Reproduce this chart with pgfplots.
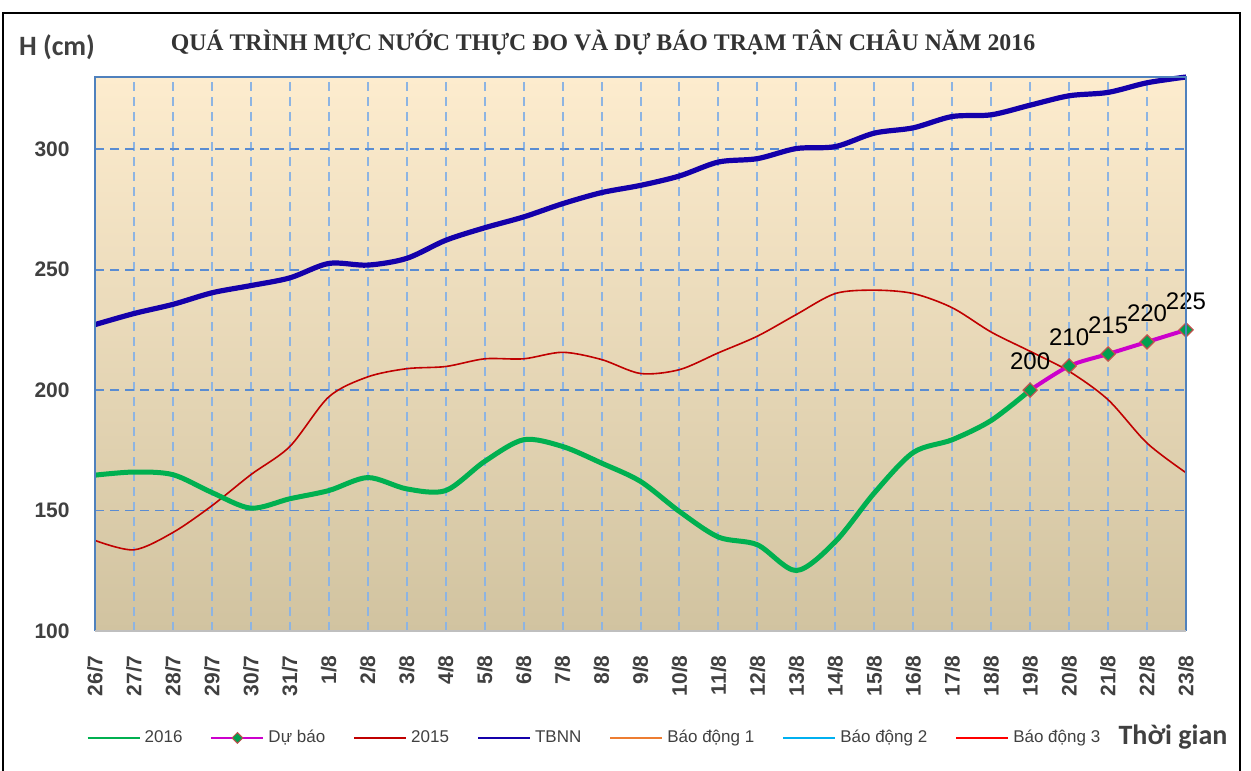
\documentclass[border=0pt]{standalone}
\usepackage{fontspec}
\setmainfont{Liberation Sans}
\newfontfamily\titlefont{Liberation Serif}
\newfontfamily\calfont{Carlito}
\usepackage{pgfplots}
\pgfplotsset{compat=1.18}
\definecolor{c2016}{RGB}{0,176,80}
\definecolor{cdb}{RGB}{204,0,204}
\definecolor{c2015}{RGB}{192,0,0}
\definecolor{ctbnn}{RGB}{20,0,170}
\definecolor{cbd1}{RGB}{237,125,49}
\definecolor{cbd2}{RGB}{0,176,240}
\definecolor{cbd3}{RGB}{255,0,0}
\definecolor{txt}{RGB}{64,64,64}
\definecolor{vgrid}{RGB}{141,180,226}
\definecolor{hgrid}{RGB}{90,140,210}
\definecolor{frameblue}{RGB}{79,129,189}
\definecolor{bgtop}{RGB}{253,236,206}
\definecolor{bgmid}{RGB}{241,233,212}
\definecolor{bgbot}{RGB}{209,195,160}
\definecolor{mkfill}{RGB}{0,160,80}
\definecolor{mkedge}{RGB}{192,80,77}
\begin{document}
\begin{tikzpicture}[x=0.5pt,y=0.5pt]
\useasboundingbox (0,0) rectangle (1251,770);
\draw[line width=1.2pt] (3,-10) -- (3,757) -- (1240,757) -- (1240,-10);
\node[font=\titlefont\bfseries\fontsize{11.9}{13}\selectfont, text=black!80] at (603,727) {QUÁ TRÌNH MỰC NƯỚC THỰC ĐO VÀ DỰ BÁO TRẠM TÂN CHÂU NĂM 2016};
\node[font=\calfont\bfseries\fontsize{14}{16}\selectfont, text=txt] at (57,723) {H (cm)};
\node[font=\calfont\bfseries\fontsize{14}{16}\selectfont, text=txt] at (1173,33) {Thời gian};
\begin{axis}[
  at={(47.5pt,69.5pt)}, anchor=south west,
  scale only axis, width=545.5pt, height=277pt,
  xmin=0, xmax=28, ymin=100, ymax=330,
  xtick={0,...,28},
  xticklabels={26/7,27/7,28/7,29/7,30/7,31/7,1/8,2/8,3/8,4/8,5/8,6/8,7/8,8/8,9/8,10/8,11/8,12/8,13/8,14/8,15/8,16/8,17/8,18/8,19/8,20/8,21/8,22/8,23/8},
  ytick={100,150,200,250,300},
  major tick length=0pt,
  /pgf/number format/assume math mode=true,
  tick label style={font=\bfseries\fontsize{10.5}{12}\selectfont, text=txt},
  x tick label style={rotate=90, anchor=east, inner sep=0pt},
  xticklabel shift=12pt,
  y tick label style={anchor=east, inner sep=0pt},
  yticklabel shift=12.5pt,
  xmajorgrids, ymajorgrids,
  x grid style={vgrid, dash pattern=on 4.5pt off 3pt, line width=1pt},
  y grid style={hgrid, dash pattern=on 4.5pt off 3pt, line width=0.9pt},
  axis line style={draw=none},
  axis background/.style={top color=bgtop, middle color=bgmid, bottom color=bgbot},
  clip=false,
  legend columns=7,
  legend style={at={(rel axis cs:-0.008,-0.193)}, anchor=west, draw=none, fill=none, inner sep=0pt,
    font=\fontsize{8.5}{10}\selectfont, text=txt,
    /tikz/every even column/.append style={column sep=12pt}},
  legend image code/.code={\draw[mark repeat=2,mark phase=2,#1] plot coordinates {(0pt,0pt) (13pt,0pt) (26pt,0pt)};},
  after end axis/.code={
    \draw[frameblue, line width=1pt] (rel axis cs:0,0) -- (rel axis cs:0,1) -- (rel axis cs:1,1) -- (rel axis cs:1,0);
    \draw[black!25, line width=1pt] (rel axis cs:0,0) -- (rel axis cs:1,0);
  },
]
% TBNN
\addplot[ctbnn, line width=2.6pt, smooth, forget plot] coordinates {
(0,227.2) (1,231.8) (2,235.6) (3,240.4) (4,243.4) (5,246.6) (6,252.6) (7,251.9) (8,254.7) (9,262.2)
(10,267.4) (11,271.9) (12,277.4) (13,282) (14,285) (15,288.9) (16,294.7) (17,296.1) (18,300.3) (19,301.1)
(20,306.7) (21,308.9) (22,313.6) (23,314.3) (24,318.3) (25,322.2) (26,323.6) (27,327.6) (28,330)};
% 2015
\addplot[c2015, line width=0.8pt, smooth, forget plot] coordinates {
(0,137.6) (1,133.7) (2,140.9) (3,152) (4,164.9) (5,176.6) (6,197.2) (7,205.5) (8,208.9) (9,209.8)
(10,213) (11,213) (12,215.7) (13,212.7) (14,206.9) (15,208.5) (16,215.5) (17,222.4) (18,231.4) (19,240.1)
(20,241.5) (21,240.1) (22,234.2) (23,224.1) (24,216.1) (25,207.8) (26,196) (27,178) (28,165.7)};
% 2016
\addplot[c2016, line width=2.5pt, smooth, forget plot] coordinates {
(0,164.7) (1,166) (2,164.9) (3,157.5) (4,151) (5,154.9) (6,158.3) (7,163.7) (8,159) (9,158.3)
(10,170.4) (11,179.4) (12,176.6) (13,169.7) (14,162.1) (15,149.6) (16,139) (17,135.8) (18,125.1) (19,137.1)
(20,157.3) (21,174.1) (22,179.4) (23,187.4) (24,200)};
% Du bao
\addplot[cdb, line width=2pt, smooth, forget plot,
  mark=square*, mark size=2.5pt, mark options={fill=mkfill, draw=mkedge, line width=0.6pt, solid, rotate=45},
  nodes near coords, point meta=explicit symbolic,
  every node near coord/.style={anchor=south, inner sep=0pt, yshift=10pt, font=\fontsize{12}{14}\selectfont, text=black}]
  coordinates {(24,200) [200] (25,210) [210] (26,215) [215] (27,220) [220] (28,225) [225]};
% legend
\addlegendimage{c2016, line width=1pt}
\addlegendentry{2016}
\addlegendimage{cdb, line width=1pt, mark=square*, mark size=1.9pt, mark options={fill=mkfill, draw=mkedge, line width=0.5pt, rotate=45}}
\addlegendentry{Dự báo}
\addlegendimage{c2015, line width=1pt}
\addlegendentry{2015}
\addlegendimage{ctbnn, line width=1pt}
\addlegendentry{TBNN}
\addlegendimage{cbd1, line width=1pt}
\addlegendentry{Báo động 1}
\addlegendimage{cbd2, line width=1pt}
\addlegendentry{Báo động 2}
\addlegendimage{cbd3, line width=1pt}
\addlegendentry{Báo động 3}
\end{axis}
\end{tikzpicture}
\end{document}
